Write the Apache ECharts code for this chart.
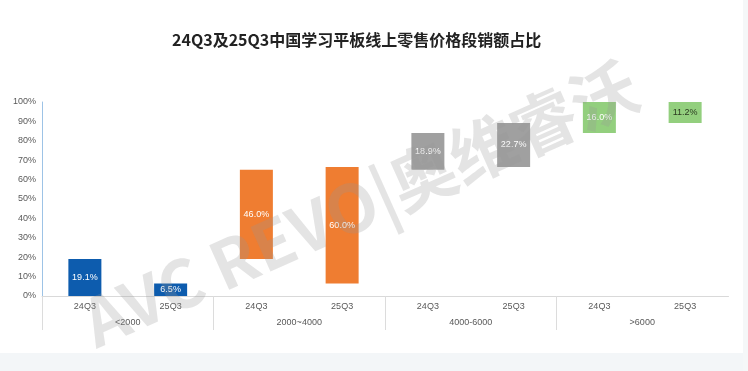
<!DOCTYPE html>
<html>
<head>
<meta charset="utf-8">
<script src="https://cdn.jsdelivr.net/npm/echarts@6/dist/echarts.min.js"></script>
<style>html,body{margin:0;padding:0;background:#fff;}#c{width:748px;height:371px;}</style>
</head>
<body>
<div id="c"></div>
<script>
var titleText = '24Q3及25Q3中国学习平板线上零售价格段销额占比';
var quarters = ['24Q3', '25Q3'];
var groups = ['<2000', '2000~4000', '4000-6000', '>6000'];
var share24Q3 = [19.1, 46.0, 18.9, 16.0];
var share25Q3 = [6.5, 60.0, 22.7, 11.2];
var yTicks = [0, 10, 20, 30, 40, 50, 60, 70, 80, 90, 100];
var segColors = ['#0d5cae', '#ef7d31', '#a0a0a0', '#93cf7e'];
var labelColors = ['#ffffff', '#ffffff', '#ffffff', '#ffffff'];
var labelColors25 = ['#ffffff', '#ffffff', '#ffffff', '#2b3a20'];

// build category axis and stacked (floating) bars from the arrays
var xCats = [];
var baseData = [];
var valData = [];
var cum24 = 0, cum25 = 0;
for (var g = 0; g < groups.length; g++) {
  xCats.push(quarters[0]);
  baseData.push(cum24);
  valData.push({value: share24Q3[g], itemStyle: {color: segColors[g]}, label: {color: labelColors[g]}});
  cum24 += share24Q3[g];
  xCats.push(quarters[1]);
  baseData.push(cum25);
  valData.push({value: share25Q3[g], itemStyle: {color: segColors[g]}, label: {color: labelColors25[g]}});
  cum25 += share25Q3[g];
}

var chart = echarts.init(document.getElementById('c'), null, {renderer: 'canvas'});
var font = '"Liberation Sans", "Noto Sans", sans-serif';
chart.setOption({
  backgroundColor: '#ffffff',
  animation: false,
  title: {
    text: titleText,
    left: 167,
    top: 27,
    textStyle: {fontSize: 16, fontWeight: 'bold', color: '#222222', fontFamily: '"Noto Sans CJK SC", sans-serif'}
  },
  graphic: [
    {type: 'rect', left: 0, top: 353, shape: {width: 748, height: 18}, style: {fill: '#f3f6f8'}, z: -10, silent: true},
    {type: 'rect', left: 743, top: 0, shape: {width: 5, height: 371}, style: {fill: '#f5f7f8'}, z: -10, silent: true},
    {type: 'rect', left: 726, top: 297, shape: {width: 4, height: 36}, style: {fill: '#ffffff'}, z: 50, silent: true},
    {
      type: 'text', x: 360, y: 204, rotation: 0.42, z: 100, silent: true,
      style: {
        text: 'AVC REVO|奥维睿沃', fill: 'rgba(150,150,150,0.26)',
        font: 'bold 66px "Noto Sans CJK SC", sans-serif', align: 'center', verticalAlign: 'middle'
      }
    }
  ],
  grid: {left: 42, right: 20, top: 102, bottom: 75, containLabel: false},
  xAxis: [
    {
      type: 'category', data: xCats, position: 'bottom',
      axisLine: {show: true, lineStyle: {color: '#d9d9d9', width: 1}},
      axisTick: {show: false},
      axisLabel: {interval: 0, margin: 6, fontSize: 9, color: '#595959', fontFamily: font}
    },
    {
      type: 'category', data: groups, position: 'bottom',
      axisLine: {show: false},
      axisTick: {show: true, length: 34, lineStyle: {color: '#dcdcdc', width: 1}},
      axisLabel: {interval: 0, margin: 22, fontSize: 9, color: '#595959', fontFamily: font}
    }
  ],
  yAxis: {
    type: 'value', min: 0, max: 100, interval: 10,
    axisLine: {show: true, lineStyle: {color: '#9dc3e6', width: 1}},
    axisTick: {show: false},
    splitLine: {show: false},
    axisLabel: {
      fontSize: 9, color: '#595959', margin: 6, fontFamily: font,
      formatter: function (v) { return yTicks.indexOf(v) >= 0 ? v + '%' : ''; }
    }
  },
  series: [
    {
      type: 'bar', stack: 's', xAxisIndex: 0, data: baseData, barWidth: 33,
      itemStyle: {color: 'transparent'}, silent: true
    },
    {
      type: 'bar', stack: 's', xAxisIndex: 0, data: valData, barWidth: 33,
      label: {
        show: true, position: 'inside', fontSize: 9, fontFamily: font,
        formatter: function (p) { return p.value.toFixed(1) + '%'; }
      }
    }
  ]
});
</script>
</body>
</html>
